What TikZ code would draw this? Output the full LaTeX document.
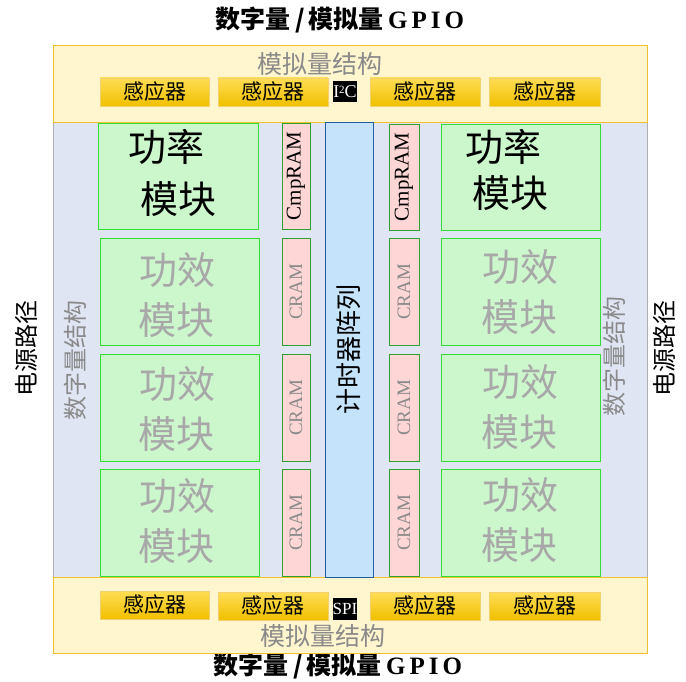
\documentclass[tikz,border=0pt]{standalone}
\usepackage{fontspec}
\setmainfont{Liberation Serif}
\newfontfamily\cjk{Noto Sans CJK SC}
\definecolor{bandY}{HTML}{FFF5CF}
\definecolor{bandYb}{HTML}{F0C030}
\definecolor{bandB}{HTML}{DFE5F3}
\definecolor{bandBb}{HTML}{B0B0B0}
\definecolor{grnF}{HTML}{CCF7CC}
\definecolor{grnB}{HTML}{33DD33}
\definecolor{pinkF}{HTML}{FFD6D6}
\definecolor{pinkB}{HTML}{30A030}
\definecolor{blueF}{HTML}{C5E3FA}
\definecolor{blueB}{HTML}{2060A0}
\definecolor{goldT}{HTML}{FFDD55}
\definecolor{goldB}{HTML}{F0C000}
\definecolor{goldE}{HTML}{F5D070}
\definecolor{txtG}{HTML}{8A8A8A}
\definecolor{txtL}{HTML}{A8A8A8}
\tikzset{
  x=1pt,y=-1pt,
  ybandbox/.style={fill=bandY,draw=bandYb,line width=0.8pt},
  gbandbox/.style={fill=bandB,draw=bandBb,line width=0.8pt},
  greenbox/.style={fill=grnF,draw=grnB,line width=0.9pt},
  pinkbox/.style={fill=pinkF,draw=pinkB,line width=0.8pt},
  bluebox/.style={fill=blueF,draw=blueB,line width=0.8pt},
  sensorbox/.style={top color=goldT,bottom color=goldB,draw=goldE,line width=0.6pt},
  blackbox/.style={fill=black,text=white,inner sep=0pt},
  sensortext/.style={font=\cjk\fontsize{21}{21}\selectfont,text=black},
  bigtext/.style={font=\cjk\fontsize{38}{38}\selectfont,inner sep=0pt},
  ramtext/.style={font=\fontsize{21}{21}\selectfont,rotate=90},
  cramtext/.style={font=\fontsize{19}{19}\selectfont,rotate=90,text=txtG},
  titletext/.style={font=\cjk\bfseries\fontsize{25}{25}\selectfont},
}
\begin{document}
\begin{tikzpicture}
\useasboundingbox (0,0) rectangle (686,682);
% titles
\node[titletext] (ttop) at (340,20) {数字量\,/\,模拟量\,{\rmfamily\bfseries G\hspace{4pt}P\hspace{4pt}I\hspace{4pt}O}};
\node[titletext] (tbot) at (338,666) {数字量\,/\,模拟量\,{\rmfamily\bfseries G\hspace{4pt}P\hspace{4pt}I\hspace{4pt}O}};
% bands
\draw[gbandbox] (53,122) rectangle (647,577);
\draw[ybandbox] (53,45) rectangle (647,122);
\draw[ybandbox] (53,577) rectangle (647,653);
\node[font=\cjk\fontsize{25}{25}\selectfont,text=txtG] (anaT) at (320,64) {模拟量结构};
\node[font=\cjk\fontsize{25}{25}\selectfont,text=txtG] (anaB) at (323,636) {模拟量结构};
% side labels
\node[font=\cjk\fontsize{24}{24}\selectfont,rotate=90] (pwrL) at (26,348) {电源路径};
\node[font=\cjk\fontsize{24}{24}\selectfont,rotate=90] (pwrR) at (664,348) {电源路径};
\node[font=\cjk\fontsize{24}{24}\selectfont,rotate=90,text=txtG] (digL) at (75,360) {数字量结构};
\node[font=\cjk\fontsize{24}{24}\selectfont,rotate=90,text=txtG] (digR) at (614,356) {数字量结构};
% sensors top
\node[sensorbox,sensortext,minimum width=109pt,minimum height=28pt,inner sep=0pt] (s1) at (154.5,92) {感应器};
\node[sensorbox,sensortext,minimum width=110pt,minimum height=28pt,inner sep=0pt] (s2) at (273,92) {感应器};
\node[sensorbox,sensortext,minimum width=110pt,minimum height=28pt,inner sep=0pt] (s3) at (425,92) {感应器};
\node[sensorbox,sensortext,minimum width=111pt,minimum height=28pt,inner sep=0pt] (s4) at (544.5,92) {感应器};
\node[blackbox,minimum width=24pt,minimum height=21pt,font=\fontsize{18}{18}\selectfont] (i2c) at (345,92) {I\raisebox{4pt}{\fontsize{11}{11}\selectfont 2}C};
% sensors bottom
\node[sensorbox,sensortext,minimum width=109pt,minimum height=28pt,inner sep=0pt] (b1) at (154.5,605) {感应器};
\node[sensorbox,sensortext,minimum width=110pt,minimum height=28pt,inner sep=0pt] (b2) at (273,606) {感应器};
\node[sensorbox,sensortext,minimum width=110pt,minimum height=28pt,inner sep=0pt] (b3) at (425,606) {感应器};
\node[sensorbox,sensortext,minimum width=111pt,minimum height=28pt,inner sep=0pt] (b4) at (544.5,606) {感应器};
\node[blackbox,minimum width=24pt,minimum height=22pt,font=\fontsize{17}{17}\selectfont] (spi) at (345,609) {SPI};
% timer
\draw[bluebox] (325,122) rectangle (373,577);
\node[font=\cjk\fontsize{26}{26}\selectfont,rotate=90] (tim) at (349,349) {计时器阵列};
% green blocks left
\draw[greenbox] (98,123) rectangle (258,229);
\draw[greenbox] (100,238) rectangle (259,345);
\draw[greenbox] (100,354) rectangle (259,461);
\draw[greenbox] (100,469) rectangle (259,576);
% green blocks right
\draw[greenbox] (441,124) rectangle (600,230);
\draw[greenbox] (441,238) rectangle (600,345);
\draw[greenbox] (441,354) rectangle (600,461);
\draw[greenbox] (441,469) rectangle (600,576);
% power module text
\node[bigtext] (p1a) at (166,147) {功率};
\node[bigtext] (p1b) at (178,199) {模块};
\node[bigtext] (p2a) at (503,147) {功率};
\node[bigtext] (p2b) at (510,193) {模块};
% efficiency text
\foreach \nm/\xx/\yy in {eL1/177/270, eL2/177/384, eL3/177/496, eR1/520/267, eR2/520/382, eR3/520/495}{
  \node[bigtext,text=txtL] (\nm) at (\xx,\yy) {功效};
  \node[bigtext,text=txtL] (\nm b) at (\xx-1,\yy+50) {模块};
}
% RAM boxes left
\draw[pinkbox] (282,123) rectangle (310,229);
\draw[pinkbox] (282,238) rectangle (310,345);
\draw[pinkbox] (282,354) rectangle (310,461);
\draw[pinkbox] (282,469) rectangle (310,576);
% RAM boxes right
\draw[pinkbox] (389,124) rectangle (419,230);
\draw[pinkbox] (389,238) rectangle (419,345);
\draw[pinkbox] (389,354) rectangle (419,461);
\draw[pinkbox] (389,469) rectangle (419,576);
\node[ramtext] (cmpL) at (296,176) {CmpRAM};
\node[ramtext] (cmpR) at (404,177) {CmpRAM};
\node[cramtext] (cL1) at (296,292) {CRAM};
\node[cramtext] (cL2) at (296,408) {CRAM};
\node[cramtext] (cL3) at (296,523) {CRAM};
\node[cramtext] (cR1) at (404,292) {CRAM};
\node[cramtext] (cR2) at (404,408) {CRAM};
\node[cramtext] (cR3) at (404,523) {CRAM};
\end{tikzpicture}
\end{document}
